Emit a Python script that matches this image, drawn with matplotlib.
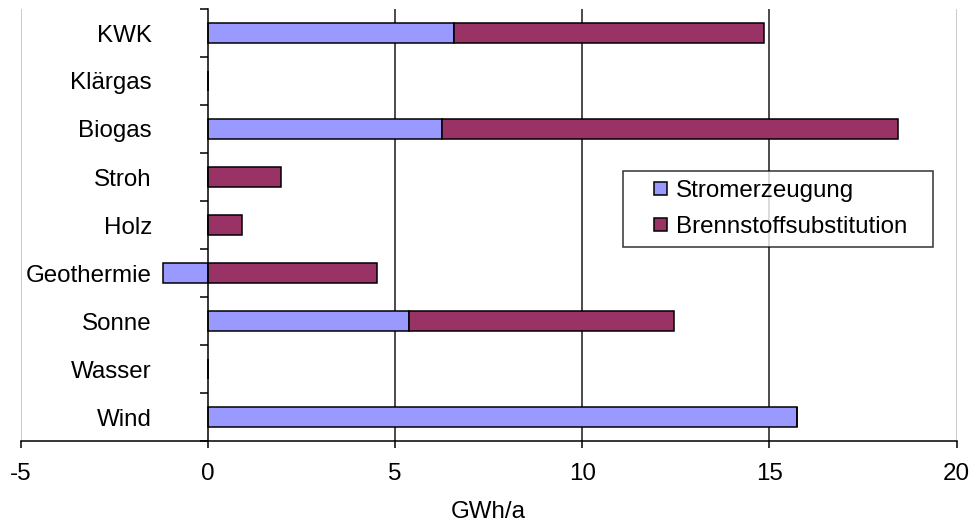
import numpy as np
import matplotlib
matplotlib.use("Agg")
import matplotlib.pyplot as plt
import matplotlib.patches as mpatches
from matplotlib.legend_handler import HandlerPatch

categories = ["KWK", "Klärgas", "Biogas", "Stroh", "Holz", "Geothermie", "Sonne", "Wasser", "Wind"]
stromerzeugung = [6.57, 0, 6.24, 0, 0, -1.2, 5.38, 0, 15.73]
brennstoff = [8.28, 0, 12.18, 1.95, 0.92, 4.51, 7.08, 0, 0]
series_names = ["Stromerzeugung", "Brennstoffsubstitution"]
series_colors = ["#9999FF", "#993366"]
x_ticks = [-5, 0, 5, 10, 15, 20]
x_label = "GWh/a"

plt.rcParams['font.family'] = ['Liberation Sans', 'DejaVu Sans']
FS = 17.4

W, H = 970, 524
fig = plt.figure(figsize=(W / 100, H / 100), dpi=100)
ax = fig.add_axes([20.7 / W, (H - 441) / H, 936 / W, 432 / H])

y = np.arange(len(categories))
strom = np.array(stromerzeugung, dtype=float)
brenn = np.array(brennstoff, dtype=float)
left_b = np.maximum(strom, 0)

bh = 0.42
ax.barh(y, strom, height=bh, color=series_colors[0], edgecolor="black", linewidth=1.1, zorder=3)
ax.barh(y, brenn, left=left_b, height=bh, color=series_colors[1], edgecolor="black", linewidth=1.1, zorder=3)

ax.set_xlim(-5, 20)
ax.set_ylim(len(categories) - 0.5, -0.5)

# gridlines
for v in [5, 10, 15]:
    ax.axvline(v, color="#1a1a1a", linewidth=1.1, zorder=1)
for v in [-5, 20]:
    ax.axvline(v, color="#c0c0c0", linewidth=1.2, zorder=1)

ax.spines['top'].set_visible(False)
ax.spines['right'].set_visible(False)
ax.spines['left'].set_position(('data', 0))
ax.spines['left'].set_color('black')
ax.spines['left'].set_linewidth(1.1)
ax.spines['left'].set_zorder(4)
ax.spines['bottom'].set_color('black')
ax.spines['bottom'].set_linewidth(1.1)

ax.set_xticks(x_ticks)
ax.set_xticklabels([str(t) for t in x_ticks], fontsize=FS)
ax.tick_params(axis='x', direction='out', length=5, width=1.1, pad=11, colors='black')

ax.set_yticks(y)
ax.set_yticklabels(categories, fontsize=FS)
ax.tick_params(axis='y', which='major', length=0, pad=56 * 0.72)
ax.set_yticks(np.arange(len(categories) + 1) - 0.5, minor=True)
ax.tick_params(axis='y', which='minor', direction='out', length=5.8, width=1.1)

ax.set_xlabel(x_label, fontsize=FS, labelpad=11)


def square_patch(legend, orig_handle, xdescent, ydescent, width, height, fontsize):
    s = 9.4
    return mpatches.Rectangle((-xdescent + width - s, -ydescent + (height - s) / 2), s, s)


handles = [mpatches.Rectangle((0, 0), 1, 1, facecolor=c, edgecolor="black", linewidth=1.1)
           for c in series_colors]

# legend bbox in axes fraction
lx0 = (622.7 - 20.7) / 936
lx1 = (933 - 20.7) / 936
ly1 = (441 - 170.5) / 432
leg = ax.legend(handles, series_names, loc='upper left',
                bbox_to_anchor=(lx0, ly1 - 0.2, lx1 - lx0, 0.2),
                mode='expand', borderaxespad=0,
                fontsize=FS, frameon=True, fancybox=False, shadow=False,
                handlelength=1.45, handleheight=0.6, handletextpad=0.38,
                labelspacing=0.58, borderpad=0.38,
                handler_map={mpatches.Rectangle: HandlerPatch(patch_func=square_patch)})
leg.get_frame().set_edgecolor('black')
leg.get_frame().set_linewidth(1.1)
leg.set_zorder(5)

fig.savefig("out.png", dpi=100)
